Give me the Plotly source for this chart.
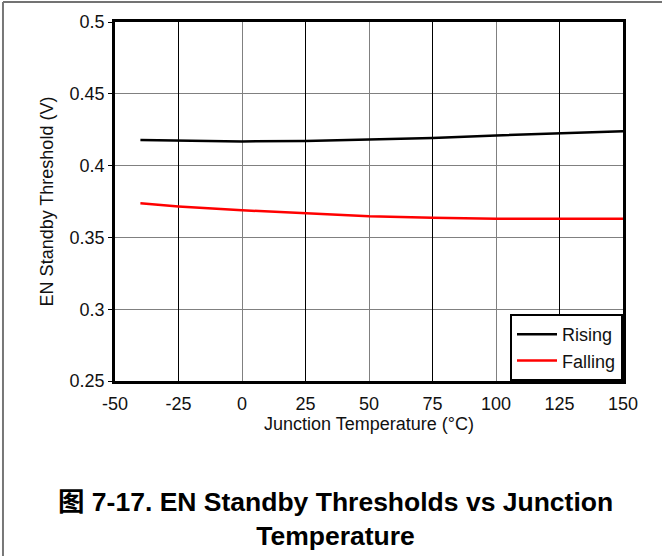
import plotly.graph_objects as go

temp = [-40, -25, 0, 25, 50, 75, 100, 125, 150]
rising = [0.4178, 0.4175, 0.4168, 0.4172, 0.4180, 0.4193, 0.4210, 0.4225, 0.4240]
falling = [0.3737, 0.3716, 0.3689, 0.3667, 0.3647, 0.3637, 0.3630, 0.3630, 0.3630]
x_ticks = [-50, -25, 0, 25, 50, 75, 100, 125, 150]
x_tick_text = ["-50", "-25", "0", "25", "50", "75", "100", "125", "150"]
x_grid_gray = [0, 50, 100]
x_grid_black = [-25, 25, 75, 125]
y_ticks = [0.25, 0.3, 0.35, 0.4, 0.45, 0.5]
y_tick_text = ["0.25", "0.3", "0.35", "0.4", "0.45", "0.5"]

FONT = "Liberation Sans, Arial, Noto Sans CJK SC, sans-serif"

fig = go.Figure()
fig.add_trace(go.Scatter(x=temp, y=rising, mode="lines", name="Rising",
                         line=dict(color="black", width=2.5)))
fig.add_trace(go.Scatter(x=temp, y=falling, mode="lines", name="Falling",
                         line=dict(color="#ff0000", width=2.5)))
# invisible helpers so the overlay grid axes are drawn
for ax in ["x2", "x3"]:
    fig.add_trace(go.Scatter(x=temp, y=rising, mode="lines", xaxis=ax, showlegend=False,
                             hoverinfo="skip", opacity=0, line=dict(width=0)))

fig.update_layout(
    width=662, height=556,
    margin=dict(l=115, r=39, t=22, b=175),
    paper_bgcolor="white", plot_bgcolor="white",
    font=dict(family=FONT, size=18, color="#111"),
    xaxis=dict(range=[-50, 150], tickvals=x_ticks, ticktext=x_tick_text, showgrid=False,
               showline=True, linecolor="black", linewidth=2.5, mirror=True,
               ticks="", zeroline=False, tickfont=dict(size=18), ticklabelstandoff=5,
               title=dict(text="Junction Temperature (°C)", font=dict(size=18), standoff=3)),
    xaxis2=dict(range=[-50, 150], overlaying="x", tickvals=x_grid_gray, showgrid=True,
                gridcolor="#808080", gridwidth=1, showticklabels=False, ticks="",
                showline=False, zeroline=False),
    xaxis3=dict(range=[-50, 150], overlaying="x", tickvals=x_grid_black, showgrid=True,
                gridcolor="#000000", gridwidth=1, showticklabels=False, ticks="",
                showline=False, zeroline=False),
    yaxis=dict(range=[0.25, 0.5], tickvals=y_ticks, ticktext=y_tick_text,
               showgrid=True, gridcolor="#808080", gridwidth=1,
               showline=True, linecolor="black", linewidth=2.5, mirror=True,
               ticks="outside", ticklen=4, tickcolor="black", zeroline=False,
               tickfont=dict(size=18),
               title=dict(text="EN Standby Threshold (V)", font=dict(size=18), standoff=12)),
    legend=dict(x=1, y=0, xanchor="right", yanchor="bottom",
                bordercolor="black", borderwidth=2, bgcolor="white",
                font=dict(size=18), tracegroupgap=0, itemwidth=40),
    showlegend=True,
)

fig.add_annotation(
    text="<b>图 7-17. EN Standby Thresholds vs Junction<br>Temperature</b>",
    xref="paper", yref="paper", x=0.435, y=-0.384, xanchor="center", yanchor="middle",
    showarrow=False, font=dict(size=26.5, color="black", family=FONT), align="center",
)

# outer frame lines (top and left)
fig.add_shape(type="line", xref="paper", yref="paper", x0=-0.2205, x1=1.1, y0=1.0557, y1=1.0557,
              line=dict(color="#444", width=1.5))
fig.add_shape(type="line", xref="paper", yref="paper", x0=-0.2205, x1=-0.2205, y0=1.0557, y1=-0.5,
              line=dict(color="#777", width=2))

fig.write_html("out.html", config={"displayModeBar": False},
               post_script="document.body.style.margin='0';")
